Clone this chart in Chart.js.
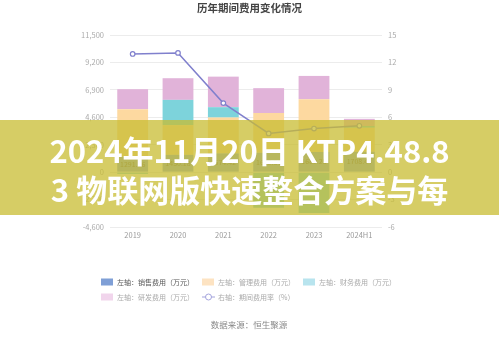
<!DOCTYPE html>
<html>
<head>
<meta charset="utf-8">
<script src="https://cdn.jsdelivr.net/npm/chart.js@4/dist/chart.umd.min.js"></script>
<style>
  html, body { margin: 0; padding: 0; background: #fff; }
  #wrap { position: relative; width: 499px; height: 337px; overflow: hidden; }
  #chart { display: block; }
  #banner {
    position: absolute; left: 0; top: 120px; width: 499px; height: 95px;
    background: rgba(200, 188, 50, 0.75);
    color: #fff; font-family: "Noto Sans CJK SC", "Noto Sans", sans-serif;
    font-weight: 700; font-size: 31px; text-align: center; white-space: nowrap;
  }
  #banner div { position: absolute; left: 0; right: 0; line-height: 38px; }
</style>
</head>
<body>
<div id="wrap">
  <canvas id="chart" width="499" height="337"></canvas>
  <div id="banner">
    <div style="top:11px">2024年11月20日 KTP4.48.8</div>
    <div style="top:50px">3 物联网版快速整合方案与每</div>
  </div>
</div>
<script>
// Period expenses by year (万元) and the period expense rate (%)
const years = ['2019', '2020', '2021', '2022', '2023', '2024H1'];
const salesCost = [1291.36, 1450.18, 1574.42, 1623.57, 1689.25, 1708.44];
const adminCost = [3991, 2492, 3004, 3327, 4428, 2012];
const financeCost = [-150, 2118, 870, -2980, -3420, 150];
const rdCost = [1674, 1816, 2561, 2092, 1951, 600];
const expenseRate = [12.93, 13.04, 7.55, 4.23, 4.77, 5.07];

const leftTicks = [-4600, -2300, 0, 2300, 4600, 6900, 9200, 11500];
const rightTicks = [-6, -3, 0, 3, 6, 9, 12, 15];

const seriesNames = [
  '左轴：销售费用（万元）',
  '左轴：管理费用（万元）',
  '左轴：财务费用（万元）',
  '左轴：研发费用（万元）',
  '右轴：期间费用率（%）'
];

const FONT = '"Noto Sans CJK SC", "Noto Sans", sans-serif';
const LINE_COLOR = '#8080cd';

// Value labels on the sales segment of each bar
const salesLabels = {
  id: 'salesLabels',
  afterDatasetsDraw(chart) {
    const ctx = chart.ctx;
    const meta = chart.getDatasetMeta(0);
    ctx.save();
    ctx.font = '7px ' + FONT;
    ctx.fillStyle = '#666';
    ctx.textAlign = 'center';
    ctx.textBaseline = 'middle';
    meta.data.forEach((bar, i) => {
      const v = chart.data.datasets[0].data[i];
      ctx.fillText(v.toFixed(2).replace(/0$/, '').replace(/\.$/, ''), bar.x, (bar.y + bar.base) / 2);
    });
    ctx.restore();
  }
};

// Title, legend and source note
const decorations = {
  id: 'decorations',
  afterDraw(chart) {
    const ctx = chart.ctx;
    ctx.save();
    ctx.textBaseline = 'middle';

    ctx.font = 'bold 10.5px ' + FONT;
    ctx.fillStyle = '#444';
    ctx.textAlign = 'center';
    ctx.fillText('历年期间费用变化情况', 249.5, 8);

    const boxColors = ['#7f9fd6', '#fde3c2', '#b8e4ee', '#f1d5ec'];
    const cols = [101, 202, 303];
    const rows = [282, 297];
    ctx.font = '7px ' + FONT;
    ctx.textAlign = 'left';
    seriesNames.forEach((name, i) => {
      const x = cols[i % 3];
      const y = rows[Math.floor(i / 3)];
      if (i < 4) {
        ctx.fillStyle = boxColors[i];
        ctx.fillRect(x, y - 3.5, 12, 7);
      } else {
        ctx.strokeStyle = '#a3a3dc';
        ctx.lineWidth = 1;
        ctx.beginPath();
        ctx.moveTo(x, y); ctx.lineTo(x + 13, y);
        ctx.stroke();
        ctx.beginPath();
        ctx.arc(x + 6.5, y, 3, 0, Math.PI * 2);
        ctx.fillStyle = '#fff';
        ctx.fill();
        ctx.stroke();
      }
      ctx.fillStyle = i === 0 ? '#555' : '#aaa';
      ctx.fillText(name, x + 16, y);
    });

    ctx.font = '8.5px ' + FONT;
    ctx.fillStyle = '#888';
    ctx.textAlign = 'center';
    ctx.fillText('数据来源：恒生聚源', 249, 325);
    ctx.restore();
  }
};

const barCommon = { stack: 'cost', yAxisID: 'y', order: 1, barPercentage: 0.68, categoryPercentage: 1 };

new Chart(document.getElementById('chart'), {
  type: 'bar',
  data: {
    labels: years,
    datasets: [
      Object.assign({ label: seriesNames[0], data: salesCost, backgroundColor: '#86a6dd' }, barCommon),
      Object.assign({ label: seriesNames[1], data: adminCost, backgroundColor: '#fdd9a0' }, barCommon),
      Object.assign({ label: seriesNames[2], data: financeCost, backgroundColor: '#7dd3db' }, barCommon),
      Object.assign({ label: seriesNames[3], data: rdCost, backgroundColor: '#e1b3d9' }, barCommon),
      {
        type: 'line', label: seriesNames[4], data: expenseRate, yAxisID: 'y1', order: 0,
        borderColor: LINE_COLOR, backgroundColor: '#fff', borderWidth: 1.5,
        pointRadius: 2.3, pointBorderWidth: 1.2, pointBorderColor: LINE_COLOR,
        pointBackgroundColor: '#fff', tension: 0, fill: false
      }
    ]
  },
  options: {
    responsive: false,
    animation: false,
    devicePixelRatio: 1,
    layout: { padding: { top: 35, bottom: 90, left: 0, right: 0 } },
    plugins: { legend: { display: false }, tooltip: { enabled: false }, title: { display: false } },
    scales: {
      x: {
        stacked: true,
        grid: { display: false, drawTicks: false },
        border: { display: false },
        ticks: { color: '#999', font: { size: 7.5, family: FONT }, padding: 4 },
        afterFit(s) { s.height = 20; }
      },
      y: {
        position: 'left', stacked: true, min: -4600, max: 11500,
        afterBuildTicks(s) { s.ticks = leftTicks.map(v => ({ value: v })); },
        ticks: { color: '#aaa', font: { size: 7.5, family: FONT }, padding: 6,
                 callback: v => v.toLocaleString('en-US') },
        grid: { color: '#ececec', drawTicks: false },
        border: { display: false },
        afterFit(s) { s.width = 110; }
      },
      y1: {
        position: 'right', min: -6, max: 15,
        afterBuildTicks(s) { s.ticks = rightTicks.map(v => ({ value: v })); },
        ticks: { color: '#aaa', font: { size: 7.5, family: FONT }, padding: 6 },
        grid: { display: false, drawTicks: false },
        border: { display: false },
        afterFit(s) { s.width = 117; }
      }
    }
  },
  plugins: [salesLabels, decorations]
});
</script>
</body>
</html>
